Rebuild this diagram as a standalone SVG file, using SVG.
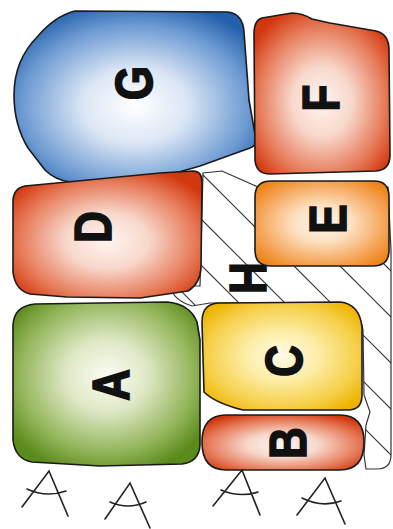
<svg xmlns="http://www.w3.org/2000/svg" width="393" height="529" viewBox="0 0 393 529">
<defs>
<style>
.node{stroke:#1a1a1a;stroke-width:1.6;stroke-linejoin:round}
.lbl{font-family:"Liberation Sans",Arial,sans-serif;font-weight:bold;font-size:52px;fill:#111;stroke:#111;stroke-width:1.6;text-anchor:middle}
.sym{fill:none;stroke:#222;stroke-width:1.6;stroke-linecap:round}
</style>
<pattern id="hatch" patternUnits="userSpaceOnUse" width="46" height="46">
<path d="M27,-1 L47,19 M-1,17 L29,47" stroke="#333" stroke-width="1.2" fill="none"/>
</pattern>
<radialGradient id="gBlue" cx="0.5" cy="0.55" r="0.62"><stop offset="0" stop-color="#ffffff"/><stop offset="0.35" stop-color="#dbe6f5"/><stop offset="0.75" stop-color="#6e9bd3"/><stop offset="1" stop-color="#2360ab"/></radialGradient>
<radialGradient id="gRed" cx="0.5" cy="0.55" r="0.62"><stop offset="0" stop-color="#fff4f0"/><stop offset="0.35" stop-color="#f8d8cc"/><stop offset="0.75" stop-color="#e67a58"/><stop offset="1" stop-color="#d2380f"/></radialGradient>
<radialGradient id="gOrange" cx="0.5" cy="0.5" r="0.62"><stop offset="0" stop-color="#fff6ee"/><stop offset="0.35" stop-color="#fde0c0"/><stop offset="0.75" stop-color="#f5a65a"/><stop offset="1" stop-color="#ee8418"/></radialGradient>
<radialGradient id="gGreen" cx="0.5" cy="0.45" r="0.62"><stop offset="0" stop-color="#fbfcf4"/><stop offset="0.35" stop-color="#dfe8c6"/><stop offset="0.75" stop-color="#93b55a"/><stop offset="1" stop-color="#5a8a1c"/></radialGradient>
<radialGradient id="gYellow" cx="0.5" cy="0.5" r="0.62"><stop offset="0" stop-color="#fffbe8"/><stop offset="0.35" stop-color="#fdeeaa"/><stop offset="0.75" stop-color="#f6d04a"/><stop offset="1" stop-color="#eeb400"/></radialGradient>
</defs>
<rect width="393" height="529" fill="#ffffff"/>

<g id="H">
<path d="M203,173 L222,171 L258,187 L388,187 L391,250 L391,455 Q391,469 377,469 L366,469 L364,455 L366,425 L370,412 L364,395 L363,330 Q360,310 345,303 L210,303 L192,306 Q178,302 172,292 Q174,286 185,286 L200,286 Z" fill="url(#hatch)" stroke="#333" stroke-width="1.2"/>
<text class="lbl" transform="translate(247,278) rotate(-90) scale(0.85,1)" dy="0.36em">H</text>
</g>

<g id="G">
<path class="node" fill="url(#gBlue)" d="M75,11 L228,12 Q243,14 244,32 L249,100 L256,140 Q256,146 250,148 L200,166 L165,176 Q140,184 110,184 L70,182 Q55,180 45,170 L28,148 Q14,125 14,95 Q14,60 38,36 Q55,16 75,11 Z"/>
<text class="lbl" transform="translate(133,83) rotate(-90) scale(0.85,1)" dy="0.36em">G</text>
</g>

<g id="F">
<path class="node" fill="url(#gRed)" d="M262,18 L292,13 Q302,13 312,19 L330,23 L376,31 Q389,34 389,50 L390,155 Q390,170 376,171 L270,174 Q256,174 255,160 L254,34 Q254,20 262,18 Z"/>
<text class="lbl" transform="translate(320,98) rotate(-90) scale(0.85,1)" dy="0.36em">F</text>
</g>

<g id="D">
<path class="node" fill="url(#gRed)" d="M25,186 L67,182 L160,173 L193,171 Q202,171 202,182 L201,268 Q200,284 188,291 L140,298 L67,297 L30,294 Q15,290 13,272 L13,200 Q14,188 25,186 Z"/>
<text class="lbl" transform="translate(92,227) rotate(-90) scale(0.85,1)" dy="0.36em">D</text>
</g>

<g id="E">
<path class="node" fill="url(#gOrange)" d="M271,181 L374,181 Q389,181 389,197 L389,250 Q389,266 373,266 L271,266 Q255,266 255,250 L255,197 Q255,181 271,181 Z"/>
<text class="lbl" transform="translate(327,219) rotate(-90) scale(0.85,1)" dy="0.36em">E</text>
</g>

<g id="A">
<path class="node" fill="url(#gGreen)" d="M35,304 L167,302 Q190,304 197,322 L200,340 L200,445 Q199,462 182,464 L100,466 L32,462 Q15,459 13,440 L13,325 Q14,306 35,304 Z"/>
<text class="lbl" transform="translate(110,385) rotate(-90) scale(0.85,1)" dy="0.36em">A</text>
</g>

<g id="C">
<path class="node" fill="url(#gYellow)" d="M220,303 L340,302 Q360,304 362,328 L362,395 Q362,410 348,410 L243,410 Q215,403 204,392 L202,322 Q202,303 220,303 Z"/>
<text class="lbl" transform="translate(283,361) rotate(-90) scale(0.85,1)" dy="0.36em">C</text>
</g>

<g id="B">
<path class="node" fill="url(#gRed)" d="M226,415 L340,415 Q364,415 364,442 Q364,470 340,470 L226,470 Q202,470 202,442 Q202,415 226,415 Z"/>
<text class="lbl" transform="translate(287,443) rotate(-90) scale(0.85,1)" dy="0.36em">B</text>
</g>

<g id="symbols">
<path class="sym" d="M22,507 L49,471 L68,516 M27,489 Q46,498 66,491"/>
<path class="sym" d="M105,519 L130,483 L150,528 M110,502 Q128,510 146,502"/>
<path class="sym" d="M213,506 L242,470 L260,515 M221,490 Q240,498 258,492"/>
<path class="sym" d="M297,515 L325,478 L345,524 M302,498 Q322,508 341,501"/>
</g>
</svg>
